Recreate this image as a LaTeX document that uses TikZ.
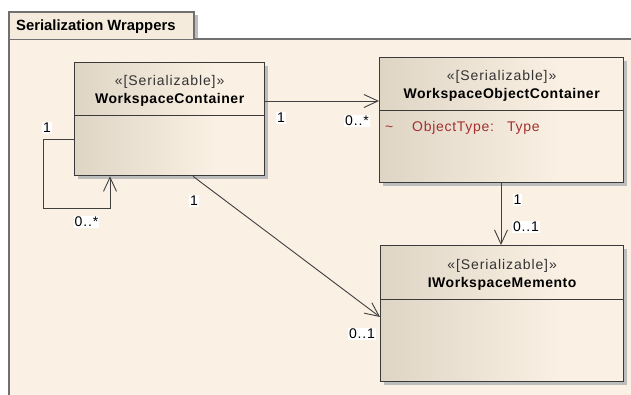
\documentclass[tikz,border=0pt]{standalone}
\usepackage{fontspec}
\setmainfont{Liberation Sans}
\newfontfamily\namefont[LetterSpace=4]{Liberation Sans}
\newfontfamily\stereofont[LetterSpace=6.5]{Liberation Sans}
\newfontfamily\multfont[LetterSpace=6]{Liberation Sans}
\newfontfamily\attrfont[LetterSpace=5]{Liberation Sans}
\usetikzlibrary{arrows.meta,calc}
\definecolor{pkgbg}{HTML}{FAF0E3}
\definecolor{tabbg}{HTML}{F4EBDD}
\definecolor{clsdark}{HTML}{DED5C5}
\definecolor{clslight}{HTML}{FAF0E3}
\definecolor{clsline}{HTML}{3A3A3A}
\definecolor{pkgline}{HTML}{707070}
\definecolor{shadowgray}{HTML}{BDBDBD}
\definecolor{attrred}{HTML}{A3302E}
\pgfdeclarehorizontalshading{classfill}{100bp}{color(0bp)=(clsdark); color(25bp)=(clsdark); color(62bp)=(clslight); color(100bp)=(clslight)}
\tikzset{
  classbox/.style={draw=clsline, line width=1.3pt, shading=classfill, rectangle,
    anchor=north west, inner sep=0pt},
  classshadow/.style={fill=shadowgray, draw=none},
  divider/.style={draw=clsline, line width=1pt},
  stereo/.style={anchor=base, inner sep=0pt, font=\stereofont\fontsize{14}{15}\selectfont, text=black!80},
  cname/.style={anchor=base, inner sep=0pt, font=\namefont\bfseries\fontsize{14}{15}\selectfont},
  mult/.style={fill=white, inner sep=1pt, font=\multfont\fontsize{14}{15}\selectfont},
  assoc/.style={draw=black!75, line width=0.9pt, -{Straight Barb[length=14pt,width=13pt,line width=0.9pt]}},
  plain/.style={draw=black!75, line width=0.9pt}
}
\begin{document}
\begin{tikzpicture}[x=1pt,y=-1pt]
\useasboundingbox (0,0) rectangle (631,395);
\fill[white] (0,0) rectangle (631,395);
\begin{scope}
\clip (0,0) rectangle (631,395);
% package frame
\fill[shadowgray] (194,15) rectangle (198,39);
\fill[pkgbg] (9,39) rectangle (660,420);
\draw[pkgline, line width=1.4pt] (660,39) -- (9,39) -- (9,420);
\draw[pkgline, line width=1.4pt, fill=tabbg] (9,39) -- (9,12) -- (194,12) -- (194,39);
\node[anchor=base west, inner sep=0pt, font=\bfseries\fontsize{14.8}{16}\selectfont] (pkgname) at (16,31) {Serialization Wrappers};

% shadows of the classes
\fill[classshadow] (78,66) rectangle (268,179);
\fill[classshadow] (383,61) rectangle (627,186);
\fill[classshadow] (384,249) rectangle (627,385);

% WorkspaceContainer
\node[classbox, minimum width=190pt, minimum height=113pt] (wc) at (74,62) {};
\draw[divider] (74,116) -- (264,116);
\node[stereo] (wcst) at ([yshift=-24pt]wc.north) {«[Serializable]»};
\node[cname] (wcnm) at ([yshift=-42pt]wc.north) {WorkspaceContainer};

% WorkspaceObjectContainer
\node[classbox, minimum width=244pt, minimum height=125pt] (woc) at (379,57) {};
\draw[divider] (379,111) -- (623,111);
\node[stereo] (wocst) at ([yshift=-24pt]woc.north) {«[Serializable]»};
\node[cname] (wocnm) at ([yshift=-42pt]woc.north) {WorkspaceObjectContainer};
\node[anchor=base west, inner sep=0pt, text=attrred, font=\attrfont\fontsize{14}{15}\selectfont] (attr) at (385,132)
  {\makebox[27pt][l]{\textasciitilde}\makebox[95pt][l]{ObjectType:}Type};

% IWorkspaceMemento
\node[classbox, minimum width=243pt, minimum height=136pt] (iwm) at (380,245) {};
\draw[divider] (380,299) -- (623,299);
\node[stereo] (iwmst) at ([yshift=-24pt]iwm.north) {«[Serializable]»};
\node[cname] (iwmnm) at ([yshift=-42pt]iwm.north) {IWorkspaceMemento};
\end{scope}

% associations
\draw[assoc] ([yshift=-39pt]wc.north east) -- ([yshift=-44pt]woc.north west);
\coordinate (loopc) at (43,208);
\draw[assoc] ([yshift=-77pt]wc.north west) -| (loopc) -| ([xshift=36pt]wc.south west);
\draw[assoc] ([xshift=119pt]wc.south west) -- ([yshift=-72pt]iwm.north west);
\draw[assoc] ([xshift=122pt]woc.south west) -- ([xshift=121pt]iwm.north west);

% multiplicities
\node[mult] (m1) at (281,118) {1};
\node[mult] (m2) at (357,121) {0..*};
\node[mult] (m3) at (47,128) {1};
\node[mult] (m4) at (86.5,222) {0..*};
\node[mult] (m5) at (194,201) {1};
\node[mult] (m6) at (362,334) {0..1};
\node[mult] (m7) at (517.5,200) {1};
\node[mult] (m8) at (526,227) {0..1};
\end{tikzpicture}
\end{document}
